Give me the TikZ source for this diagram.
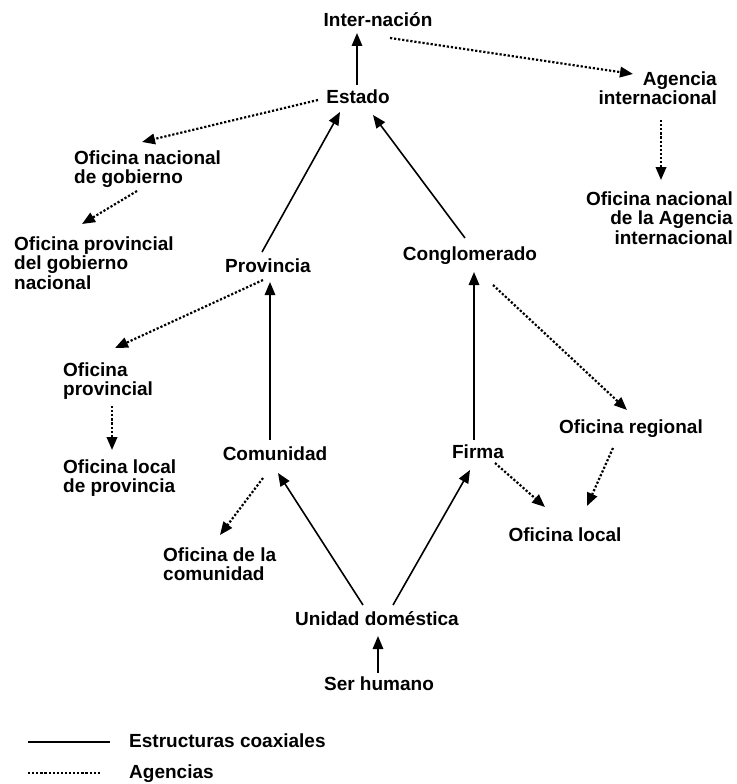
\documentclass[tikz,border=0pt]{standalone}
\usepackage{fontspec}
\setmainfont{Liberation Sans}
\usetikzlibrary{arrows.meta}
\tikzset{
  etiqueta/.style={font=\fontsize{19}{19.5}\selectfont\bfseries, inner sep=1pt},
  estructura/.style={-{Triangle[length=13pt,width=10.5pt]}, line width=1.6pt},
  agencia/.style={-{Triangle[length=13pt,width=10.5pt]}, line width=2.2pt,
    dash pattern=on 2.2pt off 1.9pt},
  leyenda/.style={line width=1.6pt}
}

\begin{document}
\begin{tikzpicture}[x=1pt,y=-1pt]
  \useasboundingbox (0,0) rectangle (736,784);

  % niveles
  \node[etiqueta,anchor=base] (intern) at (378,27) {Inter-nación};
  \node[etiqueta,anchor=base] (estado) at (358,103) {Estado};
  \node[etiqueta,anchor=base] (prov) at (268,272) {Provincia};
  \node[etiqueta,anchor=base] (congl) at (470,260) {Conglomerado};
  \node[etiqueta,anchor=base] (comun) at (275,460) {Comunidad};
  \node[etiqueta,anchor=base] (firma) at (478,458) {Firma};
  \node[etiqueta,anchor=base] (unidad) at (377,625) {Unidad doméstica};
  \node[etiqueta,anchor=base] (ser) at (379,690) {Ser humano};

  % oficinas (base = ultima linea)
  \node[etiqueta,anchor=base east,align=right] (agencia) at (718,104.5)
    {Agencia\\internacional};
  \node[etiqueta,anchor=base east,align=right] (ofagencia) at (734,244)
    {Oficina nacional\\de la Agencia\\internacional};
  \node[etiqueta,anchor=base west,align=left] (ofnac) at (73,183.5)
    {Oficina nacional\\de gobierno};
  \node[etiqueta,anchor=base west,align=left] (ofprovgob) at (13,289)
    {Oficina provincial\\del gobierno\\nacional};
  \node[etiqueta,anchor=base west,align=left] (ofprov) at (62,395.5)
    {Oficina\\provincial};
  \node[etiqueta,anchor=base west,align=left] (oflocprov) at (62,492.5)
    {Oficina local\\de provincia};
  \node[etiqueta,anchor=base] (ofreg) at (631,433) {Oficina regional};
  \node[etiqueta,anchor=base] (ofloc) at (565,541) {Oficina local};
  \node[etiqueta,anchor=base west,align=left] (ofcom) at (162,580.5)
    {Oficina de la\\comunidad};

  % estructuras coaxiales
  \draw[estructura] ([shift={(-1,-18)}]estado.base) -- ([shift={(-21,6)}]intern.base);
  \draw[estructura] ([shift={(-6,-20)}]prov.base) -- ([shift={(-18,9)}]estado.base);
  \draw[estructura] ([shift={(-5,-22)}]congl.base) -- ([shift={(15,12)}]estado.base);
  \draw[estructura] ([shift={(-5,-20)}]comun.base) -- ([shift={(2,10)}]prov.base);
  \draw[estructura] ([shift={(-4,-18)}]firma.base) -- ([shift={(4,12)}]congl.base);
  \draw[estructura] ([shift={(-14,-20)}]unidad.base) -- ([shift={(3,13)}]comun.base);
  \draw[estructura] ([shift={(16,-20)}]unidad.base) -- ([shift={(-8,12)}]firma.base);
  \draw[estructura] ([shift={(-1,-17)}]ser.base) -- ([shift={(1,11)}]unidad.base);

  % agencias
  \draw[agencia] ([shift={(12,11)}]intern.base) -- ([shift={(-85,-30.5)}]agencia.base east);
  \draw[agencia] ([shift={(-57,15.5)}]agencia.base east) -- ([shift={(-73,-64)}]ofagencia.base east);
  \draw[agencia] ([shift={(-40,-3)}]estado.base) -- ([shift={(69,-41.5)}]ofnac.base west);
  \draw[agencia] ([shift={(64,7.5)}]ofnac.base west) -- ([shift={(69,-65)}]ofprovgob.base west);
  \draw[agencia] ([shift={(-5,8)}]prov.base) -- ([shift={(53,-47.5)}]ofprov.base west);
  \draw[agencia] ([shift={(50,10.5)}]ofprov.base west) -- ([shift={(50,-42.5)}]oflocprov.base west);
  \draw[agencia] ([shift={(23,25)}]congl.base) -- ([shift={(-4,-23)}]ofreg.base);
  \draw[agencia] ([shift={(17,5)}]firma.base) -- ([shift={(-20,-34)}]ofloc.base);
  \draw[agencia] ([shift={(-18,15)}]ofreg.base) -- ([shift={(22,-35)}]ofloc.base);
  \draw[agencia] ([shift={(-12,18)}]comun.base) -- ([shift={(58,-45.5)}]ofcom.base west);

  % leyenda
  \node[etiqueta,anchor=base west] (coax) at (128,747) {Estructuras coaxiales};
  \node[etiqueta,anchor=base west] (agen) at (128,778) {Agencias};
  \coordinate (coaxa) at (28,742);
  \coordinate (agena) at (28,773);
  \draw[leyenda] (coaxa) -- ([shift={(-18,-5)}]coax.base west);
  \draw[leyenda,dash pattern=on 2.2pt off 1.9pt,line width=2.2pt]
    (agena) -- ([shift={(-28,-5)}]agen.base west);
\end{tikzpicture}
\end{document}
